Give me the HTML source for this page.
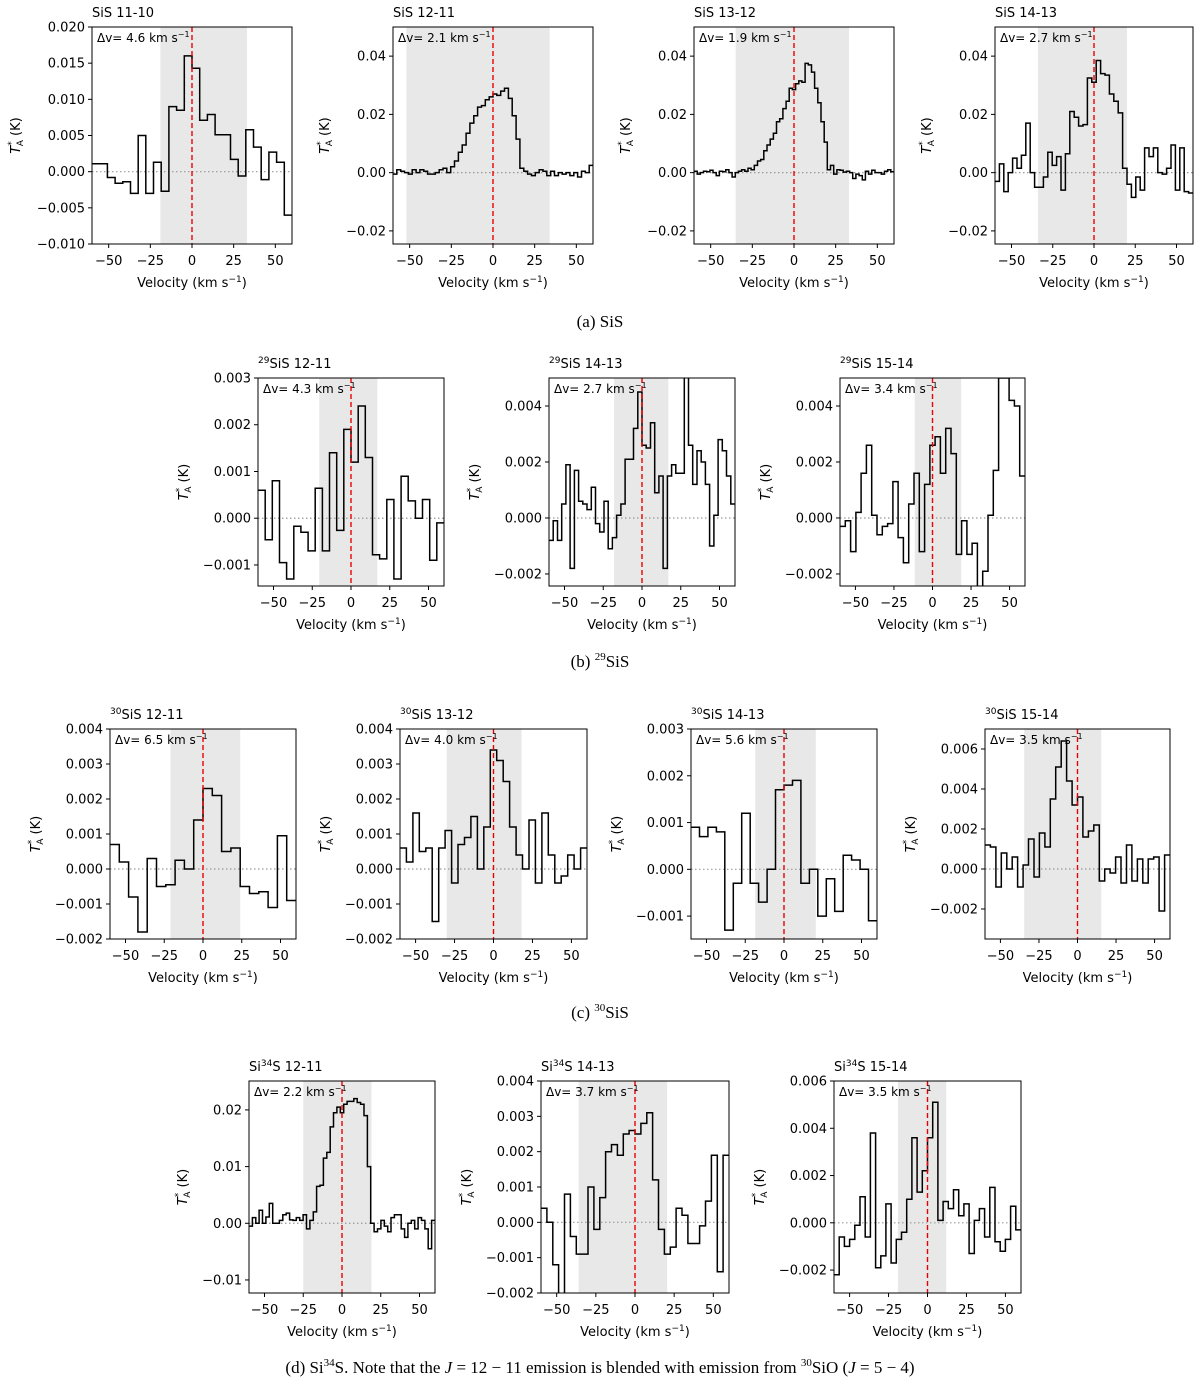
<!DOCTYPE html>
<html><head><meta charset="utf-8"><style>
body{margin:0;background:#fff}
svg{display:block;font-family:"DejaVu Sans","Liberation Sans",sans-serif}
.cap{font-family:"Liberation Serif",serif;font-size:17px}
</style></head><body>
<svg id="fig" width="1200" height="1384" viewBox="0 0 1200 1384" xmlns="http://www.w3.org/2000/svg">
<text class="cap" x="600" y="327" text-anchor="middle">(a)  SiS</text>
<text class="cap" x="600" y="667" text-anchor="middle">(b)  <tspan font-size="11" dy="-7">29</tspan><tspan dy="7">SiS</tspan></text>
<text class="cap" x="600" y="1018" text-anchor="middle">(c)  <tspan font-size="11" dy="-7">30</tspan><tspan dy="7">SiS</tspan></text>
<text class="cap" x="600" y="1373" text-anchor="middle">(d)  Si<tspan font-size="11" dy="-7">34</tspan><tspan dy="7">S. Note that the </tspan><tspan font-style="italic">J</tspan> = 12 − 11 emission is blended with emission from <tspan font-size="11" dy="-7">30</tspan><tspan dy="7">SiO (</tspan><tspan font-style="italic">J</tspan> = 5 − 4)</text>
</svg>
<script>
const vA1=[0.0011,0.0011,-0.0008,-0.0016,-0.0014,-0.003,0.005,-0.003,0.0013,-0.0027,0.009,0.0085,0.016,0.0143,0.0071,0.0079,0.0051,0.0051,0.0017,-0.0006,0.0058,0.0034,-0.0011,0.0027,0.0013,-0.006];
const vA2=[-0.0005,0.001,0.0005,0,-0.0005,0.001,0,0.001,0.0005,-0.0005,-0.0005,0,0.001,0.0015,0,0.002,0.004,0.007,0.0095,0.0135,0.017,0.0195,0.0225,0.023,0.025,0.026,0.027,0.0265,0.028,0.029,0.0255,0.0195,0.0115,0.0015,0.0005,-0.0005,-0.001,0,0.001,0.0005,-0.001,0.0005,-0.001,0,-0.0005,0,-0.001,0,-0.0015,0.0005,0,0.0025];
const vA3=[0.0005,-0.0005,0,0.0005,0.0003,0.0008,0,-0.001,0.0005,0.0003,0.001,0,-0.0015,0,0.0005,0.001,0.0005,0.0015,0.001,0.0025,0.004,0.0045,0.0075,0.0095,0.0115,0.0135,0.0175,0.0185,0.022,0.0245,0.029,0.0285,0.0305,0.0315,0.031,0.0375,0.037,0.0345,0.029,0.024,0.0175,0.0105,0.001,0.0025,-0.0005,0.001,0.0008,0.0002,0.0005,0,-0.002,-0.0005,-0.001,-0.0025,0.0005,-0.0005,0.0008,0,0,-0.0005,0.0005,0.001,0.0003];
const vA4=[-0.003,0.003,-0.0065,0,0.005,0.0015,0.006,0.017,0,-0.005,-0.005,-0.0015,0.007,0.0025,0.0055,-0.006,0.0065,0.021,0.019,0.016,0.0165,0.0325,0.031,0.0385,0.034,0.0335,0.027,0.0245,0.0205,0.0015,-0.004,-0.0085,-0.0015,-0.006,0.0085,0.0055,0.0085,0,-0.0005,0.0015,0.0095,-0.006,0.0085,-0.0065,-0.007];
const vB1=[0.0006,-0.00046,0.0008,-0.00095,-0.0013,-0.00017,-0.0003,-0.0007,0.00064,-0.0007,0.0014,-0.00026,0.0019,0.0012,0.0024,0.0013,-0.00078,-0.00087,0.0004,-0.0013,0.0009,0.00037,0,0.0004,-0.0009,-0.0001];
const vB2=[-0.0008,-0.0001,-0.0008,0.0005,0.0019,-0.0018,0.0017,0.0006,0.0005,0.0003,0.0011,-0.0002,-0.0005,0.0006,-0.0011,-0.0007,0.0001,0.0005,0.0021,0.0021,0.0032,0.0045,0.0026,0.0025,0.0034,0.0009,0.0015,-0.0018,0.0015,0.0019,0.0016,0.0016,0.006,0.0026,0.0012,0.0024,0.002,0.0012,-0.001,0.0001,0.0028,0.0024,0.0015,0.0005];
const vB3=[-0.0003,-0.0001,-0.0012,0.0002,0.0016,0.0026,0.0001,-0.0006,-0.0003,-0.0002,0.0013,-0.0007,-0.0016,0.0005,0.0016,-0.0012,0.0012,0.0026,0.0029,0.0016,0.0032,0.0023,-0.0013,-0.0001,-0.0013,-0.0009,-0.003,-0.0019,0.0001,0.0017,0.005,0.005,0.0042,0.004,0.0015];
const vC1=[0.0007,0.0002,-0.0008,-0.0018,0.0003,-0.0005,-0.00045,0.00025,0,0.0014,0.0023,0.0021,0.0005,0.0006,-0.0005,-0.0007,-0.00065,-0.0011,0.00095,-0.0009];
const vC2=[0.0006,0.0002,0.0016,0.0005,0.0006,-0.0015,0.0006,0.0011,-0.0004,0.0007,0.0009,0.0015,0,0.0012,0.0034,0.0031,0.0025,0.0012,0.0004,0,0.0014,-0.0004,0.0016,0.0004,-0.0004,-0.0002,0.0004,0,0.0006];
const vC3=[0.0009,0.0007,0.0009,0.0008,-0.0013,-0.0003,0.0012,-0.0003,-0.0007,0,0.0017,0.0018,0.0019,-0.0003,0,-0.001,-0.0002,-0.0009,0.0003,0.0002,0,-0.0011];
const vC4=[0.0012,0.0011,-0.0009,0.0008,0,0.0006,-0.0009,0.0002,0.0015,-0.0004,0.0018,0.0011,0.0035,0.0051,0.0064,0.0044,0.0032,0.0036,0.0016,0.0019,0.0022,-0.0006,0,-0.0002,0.0006,-0.0007,0.0012,-0.0006,0.0005,-0.0007,0.0005,0.0006,-0.0021,0.0007];
const vD1=[-0.0005,0.001,0,0.0023,0,0.0011,0.0035,0,0,0.0005,0.0015,0.0018,0.0006,0.0005,0.001,0.0005,0.0015,-0.001,0.0005,0.002,0.0065,0.0067,0.0115,0.0125,0.017,0.0195,0.0205,0.0195,0.021,0.0215,0.0215,0.022,0.0213,0.021,0.019,0.01,0,-0.0015,-0.001,0.0005,-0.0005,-0.0015,0.001,0.0015,0.0015,-0.001,-0.0025,0,0.0005,-0.001,0.001,0.0005,-0.001,-0.0045,0.0005];
const vD2=[0.0004,0,-0.0012,-0.0025,0.0008,-0.0004,-0.0009,-0.0009,0.001,-0.0002,0.0007,0.002,0.0022,0.0019,0.0025,0.0026,0.0025,0.0028,0.0031,0.0012,-0.0002,-0.0009,-0.0007,0.0004,0.0002,-0.0006,-0.0006,-0.0001,0.0006,0.0019,-0.0014,0.0019];
const vD3=[-0.0022,-0.0006,-0.001,-0.0007,-0.0001,0.0011,-0.0006,0.0038,-0.0019,-0.0014,0.0008,-0.0017,-0.0007,-0.0004,0.001,0.0036,0.0013,0.0022,0.0036,0.0051,0.0001,0.0009,0.0006,0.0014,0.0003,0.0008,-0.0013,0.0001,0.0006,-0.0006,0.0015,-0.0008,-0.0012,-0.0007,0.0007,-0.0003];
const xTicks=[-50,-25,0,25,50];
const tA1=[-0.01,-0.005,0,0.005,0.01,0.015,0.02];
const tA2=[-0.02,0,0.02,0.04];
const tB1=[-0.001,0,0.001,0.002,0.003];
const tB2=[-0.002,0,0.002,0.004];
const tC1=[-0.002,-0.001,0,0.001,0.002,0.003,0.004];
const tC3=[-0.001,0,0.001,0.002,0.003];
const tC4=[-0.002,0,0.002,0.004,0.006];
const tD1=[-0.01,0,0.01,0.02];
const tD2=[-0.002,-0.001,0,0.001,0.002,0.003,0.004];
const tD3=[-0.002,0,0.002,0.004,0.006];
const dvLabels=["4.6","2.1","1.9","2.7","4.3","2.7","3.4","6.5","4.0","5.6","3.5","2.2","3.7","3.5"];
const shadeA=[[-19,33],[-52,34],[-35,33],[-34,20],[-20.5,17],[-18,17],[-11.5,18.6],[-21,24],[-30,18],[-18.6,20.5],[-34.6,15.4],[-25,19],[-36,20.5],[-19,12]];

const NS="http://www.w3.org/2000/svg";
const svg=document.getElementById('fig');
function mk(tag,attrs,parent){const e=document.createElementNS(NS,tag);for(const k in attrs)e.setAttribute(k,attrs[k]);(parent||svg).appendChild(e);return e;}
const P=[
 {n:"sis-11-10",iso:"",mol:"SiS 11-10",x0:92,x1:292,y0:27,y1:244,yl:[-0.010,0.020],t:tA1,d:3,v:vA1,lo:76},
 {n:"sis-12-11",mol:"SiS 12-11",x0:393,x1:593,y0:27,y1:244,yl:[-0.0245,0.05],t:tA2,d:2,v:vA2,lo:68},
 {n:"sis-13-12",mol:"SiS 13-12",x0:694,x1:894,y0:27,y1:244,yl:[-0.0245,0.05],t:tA2,d:2,v:vA3,lo:68},
 {n:"sis-14-13",mol:"SiS 14-13",x0:995,x1:1193,y0:27,y1:244,yl:[-0.0245,0.05],t:tA2,d:2,v:vA4,lo:68},
 {n:"29sis-12-11",pre:"",sup:"29",post:"SiS 12-11",x0:258,x1:444,y0:378,y1:586,yl:[-0.00145,0.003],t:tB1,d:3,v:vB1,lo:74},
 {n:"29sis-14-13",pre:"",sup:"29",post:"SiS 14-13",x0:549,x1:735,y0:378,y1:586,yl:[-0.00243,0.005],t:tB2,d:3,v:vB2,lo:74},
 {n:"29sis-15-14",pre:"",sup:"29",post:"SiS 15-14",x0:840,x1:1025,y0:378,y1:586,yl:[-0.00243,0.005],t:tB2,d:3,v:vB3,lo:74},
 {n:"30sis-12-11",pre:"",sup:"30",post:"SiS 12-11",x0:110,x1:296,y0:729,y1:939,yl:[-0.002,0.004],t:tC1,d:3,v:vC1,lo:74},
 {n:"30sis-13-12",pre:"",sup:"30",post:"SiS 13-12",x0:400,x1:587,y0:729,y1:939,yl:[-0.002,0.004],t:tC1,d:3,v:vC2,lo:74},
 {n:"30sis-14-13",pre:"",sup:"30",post:"SiS 14-13",x0:691,x1:877,y0:729,y1:939,yl:[-0.00149,0.003],t:tC3,d:3,v:vC3,lo:74},
 {n:"30sis-15-14",pre:"",sup:"30",post:"SiS 15-14",x0:985,x1:1170,y0:729,y1:939,yl:[-0.0035,0.007],t:tC4,d:3,v:vC4,lo:74},
 {n:"si34s-12-11",pre:"Si",sup:"34",post:"S 12-11",x0:249,x1:435,y0:1081,y1:1293,yl:[-0.0123,0.0251],t:tD1,d:2,v:vD1,lo:66},
 {n:"si34s-14-13",pre:"Si",sup:"34",post:"S 14-13",x0:541,x1:729,y0:1081,y1:1293,yl:[-0.002,0.004],t:tD2,d:3,v:vD2,lo:74},
 {n:"si34s-15-14",pre:"Si",sup:"34",post:"S 15-14",x0:834,x1:1021,y0:1081,y1:1293,yl:[-0.00297,0.006],t:tD3,d:3,v:vD3,lo:74}
];
P.forEach((p,i)=>{
 const g=mk('g',{});
 
 
 const X=v=>p.x0+(v+60)/120*(p.x1-p.x0);
 const Y=v=>p.y1-(v-p.yl[0])/(p.yl[1]-p.yl[0])*(p.y1-p.y0);
 const cid='c'+i;
 const cp=mk('clipPath',{id:cid},g);mk('rect',{x:p.x0,y:p.y0,width:p.x1-p.x0,height:p.y1-p.y0},cp);
 const sh=mk('rect',{x:X(shadeA[i][0]),y:p.y0,width:X(shadeA[i][1])-X(shadeA[i][0]),height:p.y1-p.y0,fill:'#e8e8e8'},g);
 
 
 const zl=mk('line',{x1:p.x0,x2:p.x1,y1:Y(0),y2:Y(0),stroke:'#999','stroke-width':1.2,'stroke-dasharray':'1.5,2.5'},g);
 
 
 const N=p.v.length,w=120/N;let d='';
 p.v.forEach((val,k)=>{const a=X(-60+k*w),b=X(-60+(k+1)*w),y=Y(val);d+=(k?'L':'M')+a.toFixed(1)+','+y.toFixed(1)+'L'+b.toFixed(1)+','+y.toFixed(1);});
 const sp=mk('path',{d:d,fill:'none',stroke:'#000','stroke-width':1.5,'clip-path':'url(#'+cid+')'},g);
 
 
 const vl=mk('line',{x1:X(0),x2:X(0),y1:p.y0,y2:p.y1,stroke:'#e00','stroke-width':1.4,'stroke-dasharray':'5,3'},g);
 
 
 const fr=mk('rect',{x:p.x0,y:p.y0,width:p.x1-p.x0,height:p.y1-p.y0,fill:'none',stroke:'#000','stroke-width':1},g);
 
 
 xTicks.forEach(t=>{const x=X(t);mk('line',{x1:x,x2:x,y1:p.y1,y2:p.y1+4,stroke:'#000'},g);
  const tx=mk('text',{x:x,y:p.y1+21,'text-anchor':'middle','font-size':13},g);tx.textContent=(t<0?'\u2212':'')+Math.abs(t);
  
  });
 p.t.forEach(t=>{const y=Y(t);mk('line',{x1:p.x0-4,x2:p.x0,y1:y,y2:y,stroke:'#000'},g);
  const tx=mk('text',{x:p.x0-7,y:y+4.5,'text-anchor':'end','font-size':13},g);tx.textContent=(t<0?'\u2212':'')+Math.abs(t).toFixed(p.d);
  
  });
 const xl=mk('text',{x:(p.x0+p.x1)/2,y:p.y1+43,'text-anchor':'middle','font-size':13},g);
 xl.innerHTML='Velocity (km s<tspan font-size="9" dy="-5">\u22121</tspan><tspan dy="5">)</tspan>';
 
 
 const yc=(p.y0+p.y1)/2,yx=p.x0-p.lo+4;
 const yl=mk('text',{x:yx,y:yc,'text-anchor':'middle','font-size':13,transform:'rotate(-90 '+yx+' '+yc+')'},g);
 yl.innerHTML='<tspan font-style="italic">T</tspan><tspan font-size="9" dy="-6">*</tspan><tspan font-size="9" dy="9" dx="-5">A</tspan><tspan dy="-3"> (K)</tspan>';
 
 
 const dv=mk('text',{x:p.x0+5,y:p.y0+15,'font-size':12},g);
 dv.innerHTML='\u0394v= '+dvLabels[i]+' km s<tspan font-size="8" dy="-5">\u22121</tspan>';
 
 
 const ti=mk('text',{x:p.x0,y:p.y0-10,'font-size':13},g);
 if(p.mol) ti.textContent=p.mol; else ti.innerHTML=p.pre+'<tspan font-size="9" dy="-5">'+p.sup+'</tspan><tspan dy="5">'+p.post+'</tspan>';
 
 
});
</script>
</body></html>
